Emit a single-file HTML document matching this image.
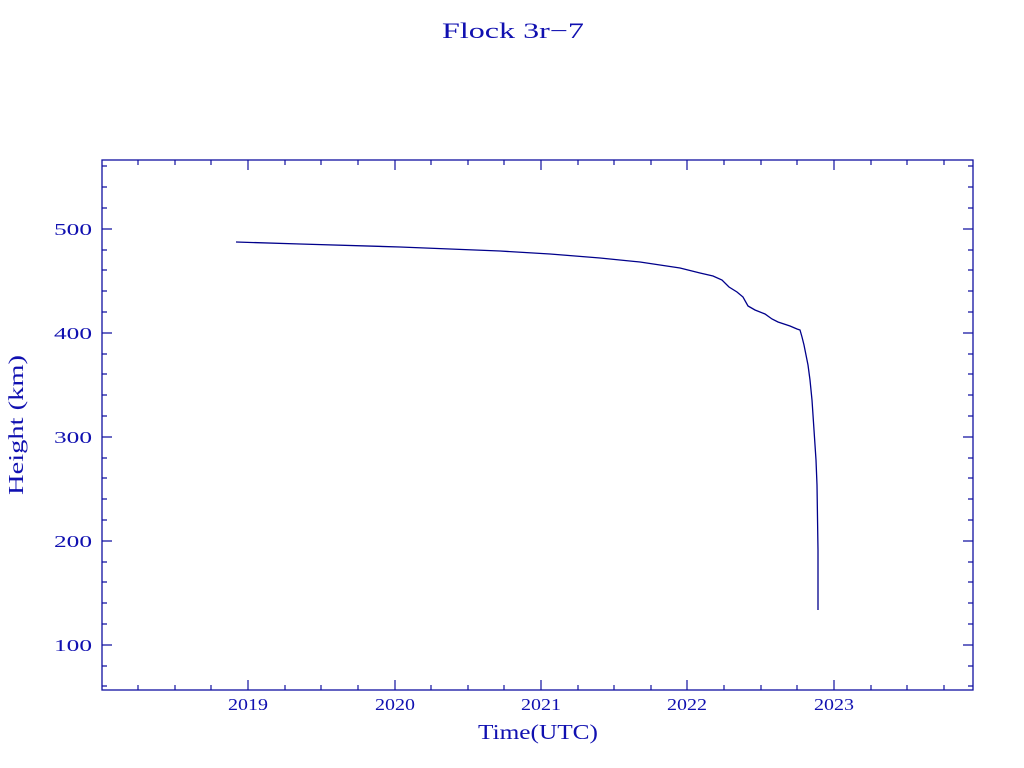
<!DOCTYPE html>
<html><head><style>body{margin:0;background:#fff}svg{display:block}</style></head><body>
<svg width="1024" height="768" xmlns="http://www.w3.org/2000/svg" font-family="'Liberation Serif',serif" fill="#1010b0">
<text x="442" y="38" font-size="22" textLength="142" lengthAdjust="spacingAndGlyphs">Flock 3r−7</text>
<rect x="102" y="160" width="871" height="530" fill="none" stroke="#1010a0" stroke-width="1.3"/>
<g stroke="#1010a0" stroke-width="1.2">
<path d="M175,690v-5M175,160v5M248,690v-10M248,160v10M321,690v-5M321,160v5M358,690v-5M358,160v5M285,690v-5M285,160v5M211,690v-5M211,160v5M138,690v-5M138,160v5
M395,690v-10M395,160v10M431,690v-5M431,160v5M468,690v-5M468,160v5M504,690v-5M504,160v5
M541,690v-10M541,160v10M578,690v-5M578,160v5M614,690v-5M614,160v5M651,690v-5M651,160v5
M687,690v-10M687,160v10M724,690v-5M724,160v5M761,690v-5M761,160v5M797,690v-5M797,160v5
M834,690v-10M834,160v10M871,690v-5M871,160v5M907,690v-5M907,160v5M944,690v-5M944,160v5"/>
<path d="M102,229h10M973,229h-10M102,333h10M973,333h-10M102,437h10M973,437h-10M102,541h10M973,541h-10M102,645h10M973,645h-10
M102,166h5M973,166h-5M102,187h5M973,187h-5M102,208h5M973,208h-5M102,250h5M973,250h-5M102,270h5M973,270h-5M102,291h5M973,291h-5M102,312h5M973,312h-5
M102,354h5M973,354h-5M102,374h5M973,374h-5M102,395h5M973,395h-5M102,416h5M973,416h-5M102,458h5M973,458h-5M102,478h5M973,478h-5M102,499h5M973,499h-5M102,520h5M973,520h-5
M102,562h5M973,562h-5M102,582h5M973,582h-5M102,603h5M973,603h-5M102,624h5M973,624h-5M102,666h5M973,666h-5M102,686h5M973,686h-5"/>
</g>
<g font-size="17">
<text x="54" y="235" textLength="38" lengthAdjust="spacingAndGlyphs">500</text>
<text x="54" y="339" textLength="38" lengthAdjust="spacingAndGlyphs">400</text>
<text x="54" y="443" textLength="38" lengthAdjust="spacingAndGlyphs">300</text>
<text x="54" y="547" textLength="38" lengthAdjust="spacingAndGlyphs">200</text>
<text x="54" y="651" textLength="38" lengthAdjust="spacingAndGlyphs">100</text>
</g>
<g font-size="17">
<text x="228" y="710" textLength="40" lengthAdjust="spacingAndGlyphs">2019</text>
<text x="375" y="710" textLength="40" lengthAdjust="spacingAndGlyphs">2020</text>
<text x="521" y="710" textLength="40" lengthAdjust="spacingAndGlyphs">2021</text>
<text x="667" y="710" textLength="40" lengthAdjust="spacingAndGlyphs">2022</text>
<text x="814" y="710" textLength="40" lengthAdjust="spacingAndGlyphs">2023</text>
</g>
<text x="478" y="739" font-size="21" textLength="120" lengthAdjust="spacingAndGlyphs">Time(UTC)</text>
<text transform="translate(23,495) rotate(-90)" font-size="21" textLength="140" lengthAdjust="spacingAndGlyphs">Height (km)</text>
<polyline fill="none" stroke="#00008b" stroke-width="1.3" points="236,242 300,244 400,247 500,251 550,254 600,258 640,262 660,265 680,268 692,271 700,273 713,276 722,280 729,287 737,292 743,297 748,306 755,310 765,314 772,319 778,322 790,326 797,329 800,330 802,337 804,345 806,355 808,365 810,380 812,400 814,430 816,460 817,485 818,550 818,610"/>
</svg>
</body></html>
